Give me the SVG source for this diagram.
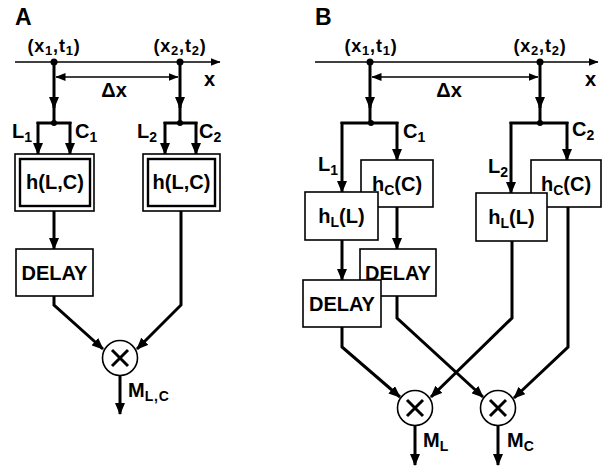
<svg xmlns="http://www.w3.org/2000/svg" width="602" height="467" viewBox="0 0 602 467">
<defs>
<style>
text{font-family:"Liberation Sans",Arial,sans-serif;font-weight:bold;fill:#000}
.t{font-size:20px}
.pt{font-size:18px;letter-spacing:0.8px}
.pan{font-size:23px}
.sub{font-size:14px}
.psub{font-size:13px}
.box{fill:#fff;stroke:#000;stroke-width:1.6}
.inner{fill:none;stroke:#000;stroke-width:2.4}
.thick{fill:none;stroke:#000;stroke-width:3}
.thin{fill:none;stroke:#000;stroke-width:1.4}
.arr{marker-end:url(#ah)}
.circ{fill:#fff;stroke:#000;stroke-width:1.6}
.dot{fill:#000}
</style>
<marker id="ah" viewBox="0 0 12 10" refX="11" refY="5" markerWidth="12" markerHeight="10" markerUnits="userSpaceOnUse" orient="auto"><path d="M0,0 L12,5 L0,10 z" fill="#000"/></marker>
<marker id="sh" viewBox="0 0 10 8" refX="9.5" refY="4" markerWidth="10" markerHeight="8" markerUnits="userSpaceOnUse" orient="auto-start-reverse"><path d="M0,0 L10,4 L0,8 z" fill="#000"/></marker>
</defs>

<g id="labels">
<text class="pan" x="15" y="25">A</text>
<text class="pan" x="315" y="25">B</text>
<text class="pt" x="54" y="52" text-anchor="middle">(x<tspan class="psub" dy="3">1</tspan><tspan dy="-3">,t</tspan><tspan class="psub" dy="3">1</tspan><tspan dy="-3">)</tspan></text>
<text class="pt" x="180" y="52" text-anchor="middle">(x<tspan class="psub" dy="3">2</tspan><tspan dy="-3">,t</tspan><tspan class="psub" dy="3">2</tspan><tspan dy="-3">)</tspan></text>
<text class="pt" x="371" y="52" text-anchor="middle">(x<tspan class="psub" dy="3">1</tspan><tspan dy="-3">,t</tspan><tspan class="psub" dy="3">1</tspan><tspan dy="-3">)</tspan></text>
<text class="pt" x="540" y="52" text-anchor="middle">(x<tspan class="psub" dy="3">2</tspan><tspan dy="-3">,t</tspan><tspan class="psub" dy="3">2</tspan><tspan dy="-3">)</tspan></text>
<text class="t" x="114" y="97" text-anchor="middle">Δx</text>
<text class="t" x="449" y="97" text-anchor="middle">Δx</text>
<text class="t" x="204" y="86">x</text>
<text class="t" x="585" y="86">x</text>
<text class="t" x="12" y="138">L<tspan class="sub" dy="4">1</tspan></text>
<text class="t" x="75" y="138">C<tspan class="sub" dy="4">1</tspan></text>
<text class="t" x="137" y="138">L<tspan class="sub" dy="4">2</tspan></text>
<text class="t" x="199" y="138">C<tspan class="sub" dy="4">2</tspan></text>
<text class="t" x="318" y="171">L<tspan class="sub" dy="4">1</tspan></text>
<text class="t" x="403" y="138">C<tspan class="sub" dy="4">1</tspan></text>
<text class="t" x="488" y="173">L<tspan class="sub" dy="4">2</tspan></text>
<text class="t" x="572" y="136">C<tspan class="sub" dy="4">2</tspan></text>
<text class="t" x="128" y="397">M<tspan class="sub" dy="4" letter-spacing="0.8">L,C</tspan></text>
<text class="t" x="423" y="447">M<tspan class="sub" dy="4">L</tspan></text>
<text class="t" x="507" y="447">M<tspan class="sub" dy="4">C</tspan></text>
</g>

<g id="connectors">
<line class="thin" x1="15" y1="62" x2="220" y2="62" marker-end="url(#sh)"/>
<line class="thin" x1="315" y1="62" x2="598" y2="62" marker-end="url(#sh)"/>
<line class="thin" x1="56" y1="77" x2="178" y2="77" marker-start="url(#sh)" marker-end="url(#sh)"/>
<line class="thin" x1="372" y1="77" x2="538" y2="77" marker-start="url(#sh)" marker-end="url(#sh)"/>
<!-- A left -->
<line class="thick arr" x1="54" y1="62" x2="54" y2="108"/>
<line class="thick" x1="54" y1="104" x2="54" y2="123"/>
<path class="thick" d="M38,124 V123 H70 V124"/>
<line class="thick arr" x1="38" y1="122" x2="38" y2="154"/>
<line class="thick arr" x1="70" y1="122" x2="70" y2="154"/>
<line class="thick arr" x1="54" y1="211" x2="54" y2="249"/>
<path class="thick arr" d="M54,296 V305 L103,349"/>
<!-- A right -->
<line class="thick arr" x1="180" y1="62" x2="180" y2="108"/>
<line class="thick" x1="180" y1="104" x2="180" y2="123"/>
<path class="thick" d="M165,124 V123 H196 V124"/>
<line class="thick arr" x1="165" y1="122" x2="165" y2="154"/>
<line class="thick arr" x1="196" y1="122" x2="196" y2="154"/>
<path class="thick arr" d="M181,211 V305 L137,349"/>
<line class="thick arr" x1="120" y1="376" x2="120" y2="414"/>
<!-- B left -->
<line class="thick arr" x1="370" y1="62" x2="370" y2="108"/>
<line class="thick" x1="370" y1="104" x2="370" y2="123"/>
<path class="thick" d="M342,124 V123 H397 V124"/>
<line class="thick arr" x1="342" y1="122" x2="342" y2="192"/>
<line class="thick arr" x1="397" y1="122" x2="397" y2="160"/>
<line class="thick arr" x1="397" y1="207" x2="397" y2="249"/>
<line class="thick arr" x1="342" y1="240" x2="342" y2="280"/>
<path class="thick arr" d="M342,327 V347 L400,397"/>
<path class="thick arr" d="M397,296 V318 L483,397"/>
<!-- B right -->
<line class="thick arr" x1="540" y1="62" x2="540" y2="108"/>
<line class="thick" x1="540" y1="104" x2="540" y2="123"/>
<path class="thick" d="M511,124 V123 H567 V124"/>
<line class="thick arr" x1="511" y1="122" x2="511" y2="193"/>
<line class="thick arr" x1="567" y1="122" x2="567" y2="160"/>
<path class="thick arr" d="M512,241 V318 L431,397"/>
<path class="thick arr" d="M568,207 V347 L514,398"/>
<line class="thick arr" x1="415" y1="426" x2="415" y2="465"/>
<line class="thick arr" x1="498" y1="426" x2="498" y2="465"/>
<circle class="dot" cx="54" cy="62" r="3.5"/>
<circle class="dot" cx="180" cy="62" r="3.5"/>
<circle class="dot" cx="370" cy="62" r="3.5"/>
<circle class="dot" cx="540" cy="62" r="3.5"/>
<circle class="dot" cx="54" cy="123" r="3"/>
<circle class="dot" cx="180" cy="123" r="3"/>
<circle class="dot" cx="371" cy="123" r="3"/>
<circle class="dot" cx="540" cy="123" r="3"/>
</g>

<g id="hA1">
<rect class="box" x="15" y="154" width="79" height="57"/>
<rect class="inner" x="20" y="159" width="70" height="47"/>
<text class="t" x="55" y="189" text-anchor="middle">h(L,C)</text>
</g>
<g id="hA2">
<rect class="box" x="143" y="154" width="77" height="57"/>
<rect class="inner" x="148" y="159" width="67" height="47"/>
<text class="t" x="181.5" y="189" text-anchor="middle">h(L,C)</text>
</g>
<g id="delayA">
<rect class="box" x="16" y="249" width="77" height="47"/>
<text class="t" x="54.5" y="280" text-anchor="middle">DELAY</text>
</g>
<g id="multA">
<circle class="circ" cx="120" cy="358" r="17.5"/>
<path class="thick" d="M112,350 L128,366 M128,350 L112,366"/>
</g>

<g id="hC1">
<rect class="box" x="361" y="160" width="72" height="47"/>
<text class="t" x="397" y="191" text-anchor="middle">h<tspan class="sub" dy="4">C</tspan><tspan dy="-4">(C)</tspan></text>
</g>
<g id="hL1">
<rect class="box" x="305" y="192" width="73" height="48"/>
<text class="t" x="341.5" y="223" text-anchor="middle">h<tspan class="sub" dy="4">L</tspan><tspan dy="-4">(L)</tspan></text>
</g>
<g id="hC2">
<rect class="box" x="531" y="160" width="70" height="47"/>
<text class="t" x="566" y="191" text-anchor="middle">h<tspan class="sub" dy="4">C</tspan><tspan dy="-4">(C)</tspan></text>
</g>
<g id="hL2">
<rect class="box" x="476" y="193" width="71" height="48"/>
<text class="t" x="511.5" y="224" text-anchor="middle">h<tspan class="sub" dy="4">L</tspan><tspan dy="-4">(L)</tspan></text>
</g>
<g id="delayB1">
<rect class="box" x="360" y="249" width="76" height="47"/>
<text class="t" x="398" y="280" text-anchor="middle">DELAY</text>
</g>
<g id="delayB2">
<rect class="box" x="303" y="280" width="78" height="47"/>
<text class="t" x="342" y="311" text-anchor="middle">DELAY</text>
</g>
<g id="multL">
<circle class="circ" cx="415" cy="408" r="17.5"/>
<path class="thick" d="M407,400 L423,416 M423,400 L407,416"/>
</g>
<g id="multC">
<circle class="circ" cx="498" cy="408" r="17.5"/>
<path class="thick" d="M490,400 L506,416 M506,400 L490,416"/>
</g>
</svg>
